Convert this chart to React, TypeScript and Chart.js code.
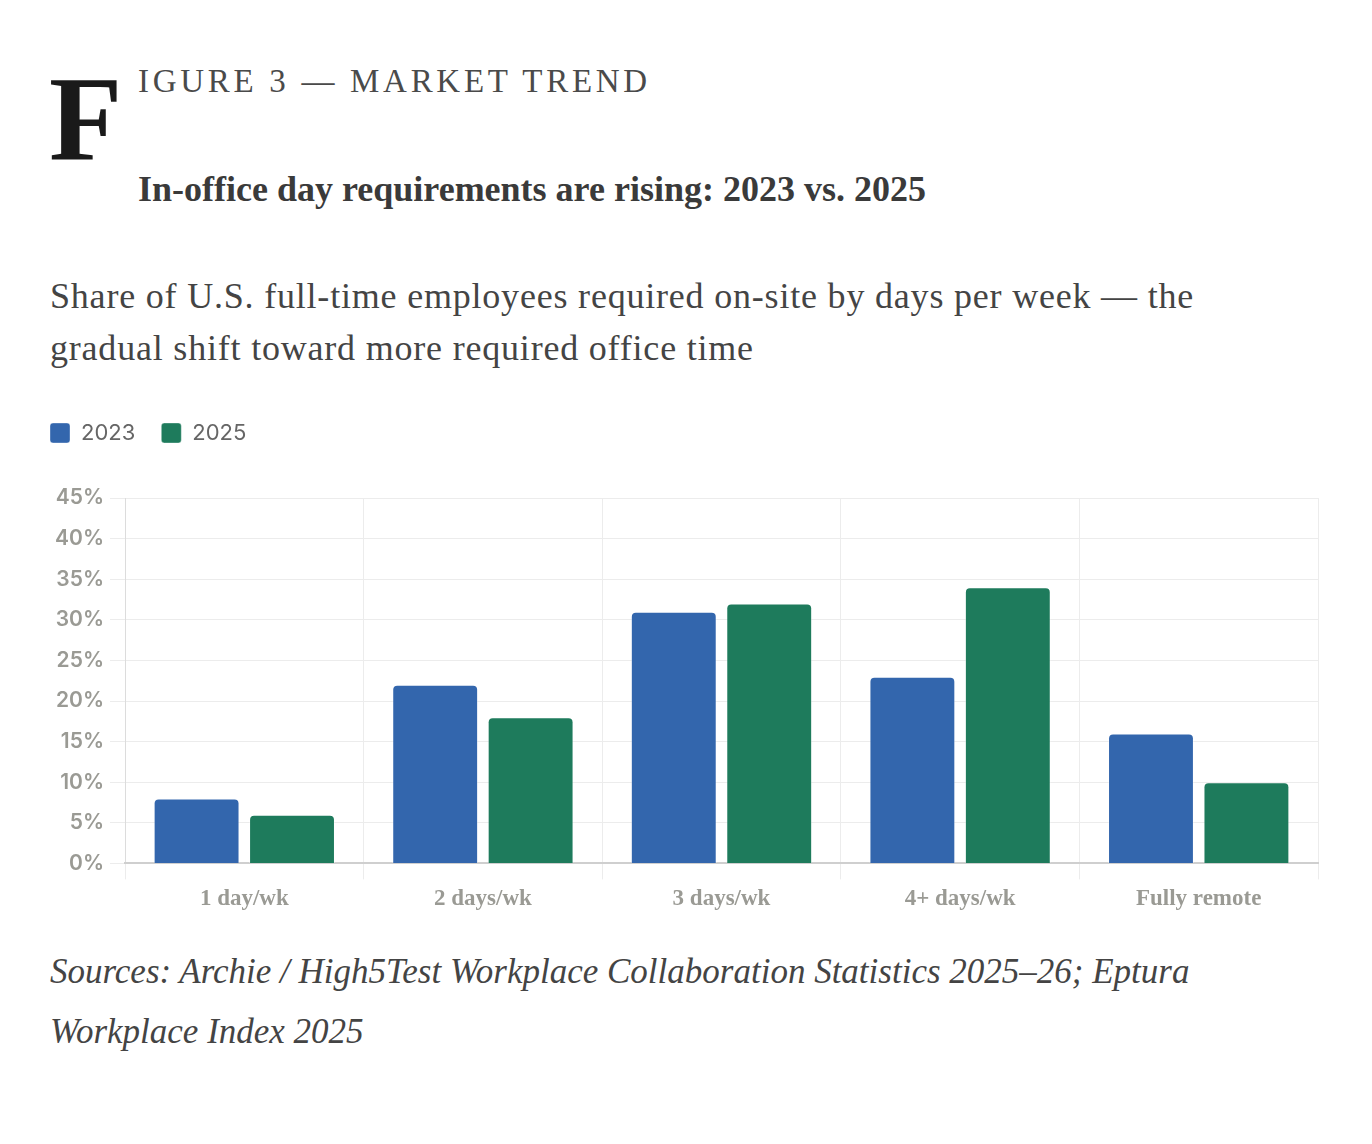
import { useEffect, useRef } from "react"
import { Chart, registerables } from "chart.js"

Chart.register(...registerables)

const categories = ["1 day/wk", "2 days/wk", "3 days/wk", "4+ days/wk", "Fully remote"]
const values2023 = [8, 22, 31, 23, 16]
const values2025 = [6, 18, 32, 34, 10]
const seriesLabels = ["2023", "2025"]
const seriesColors = ["#3366ad", "#1e7b5c"]

const SANS = "Inter, 'Noto Sans', sans-serif"
const SERIF = "'Liberation Serif', serif"

// adds breathing room under the legend
const legendMargin = {
  id: "legendMargin",
  beforeInit(chart: any) {
    const fit = chart.legend.fit
    chart.legend.fit = function () {
      fit.bind(this)()
      this.height += 44
    }
  },
}

function MarketTrendChart() {
  const chartRef = useRef<HTMLCanvasElement>(null)
  const chartInstance = useRef<Chart | null>(null)

  useEffect(() => {
    if (!chartRef.current) return
    if (chartInstance.current) chartInstance.current.destroy()
    const ctx = chartRef.current.getContext("2d")
    if (!ctx) return

    chartInstance.current = new Chart(ctx, {
      type: "bar",
      data: {
        labels: categories,
        datasets: [values2023, values2025].map((vals, i) => ({
          label: seriesLabels[i],
          data: vals,
          backgroundColor: seriesColors[i],
          borderColor: "rgba(255,255,255,0.35)",
          borderWidth: 1,
          borderRadius: 5,
          categoryPercentage: 0.8,
          barPercentage: 0.9,
        })),
      },
      options: {
        animation: false,
        responsive: true,
        maintainAspectRatio: false,
        layout: { padding: { left: 0, right: 4, top: 0, bottom: 0 } },
        plugins: {
          legend: {
            position: "top",
            align: "start",
            labels: {
              boxWidth: 20,
              boxHeight: 20,
              useBorderRadius: true,
              borderRadius: 3,
              padding: 26,
              color: "#666",
              font: { family: SANS, size: 22 },
            },
          },
          tooltip: { enabled: false },
        },
        scales: {
          y: {
            min: 0,
            max: 45,
            afterFit: (scale) => {
              scale.width = 101
            },
            ticks: {
              stepSize: 5,
              padding: 6,
              color: "#9a9a94",
              font: { family: SANS, size: 21, weight: 600 },
              callback: (v) => `${v}%`,
            },
            grid: { color: "#ececec", tickLength: 15 },
            border: { color: "#dcdcdc" },
          },
          x: {
            ticks: {
              padding: 6,
              color: "#9a9a94",
              font: { family: SERIF, size: 23, weight: 600 },
            },
            grid: { color: "#ececec", tickLength: 16 },
            border: { color: "#cfcfcf", width: 2 },
          },
        },
      },
      plugins: [legendMargin],
    })

    return () => {
      if (chartInstance.current) chartInstance.current.destroy()
    }
  }, [])

  return <canvas ref={chartRef} />
}

export default function App() {
  return (
    <div style={{ padding: "0 42px", background: "#fff", color: "#333" }}>
      <div style={{ position: "relative", height: 250 }}>
        <div
          style={{
            position: "absolute",
            left: -1,
            top: 52,
            fontFamily: SERIF,
            fontWeight: 700,
            fontSize: 120,
            lineHeight: "120px",
            color: "#1a1a1a",
          }}
        >
          F
        </div>
        <div
          style={{
            position: "absolute",
            left: 88,
            top: 53,
            fontFamily: SERIF,
            fontSize: 33,
            letterSpacing: 3.7,
            color: "#4a4a4a",
            lineHeight: "40px",
          }}
        >
          IGURE 3 — MARKET TREND
        </div>
        <div
          style={{
            position: "absolute",
            left: 88,
            top: 159,
            fontFamily: SERIF,
            fontWeight: 700,
            fontSize: 36,
            color: "#3a3a3a",
            lineHeight: "44px",
          }}
        >
          In-office day requirements are rising: 2023 vs. 2025
        </div>
      </div>
      <div
        style={{
          fontFamily: SERIF,
          fontSize: 36,
          letterSpacing: 0.8,
          lineHeight: "52px",
          color: "#444",
          marginTop: 12,
        }}
      >
        Share of U.S. full-time employees required on-site by days per week — the
        <br />
        gradual shift toward more required office time
      </div>
      <div style={{ position: "relative", height: 523, marginTop: 22, marginLeft: -26 }}>
        <MarketTrendChart />
      </div>
      <div
        style={{
          fontFamily: SERIF,
          fontStyle: "italic",
          fontSize: 35,
          lineHeight: "60px",
          color: "#444",
          marginTop: 23,
        }}
      >
        Sources: Archie / High5Test Workplace Collaboration Statistics 2025–26; Eptura
        <br />
        Workplace Index 2025
      </div>
    </div>
  )
}
